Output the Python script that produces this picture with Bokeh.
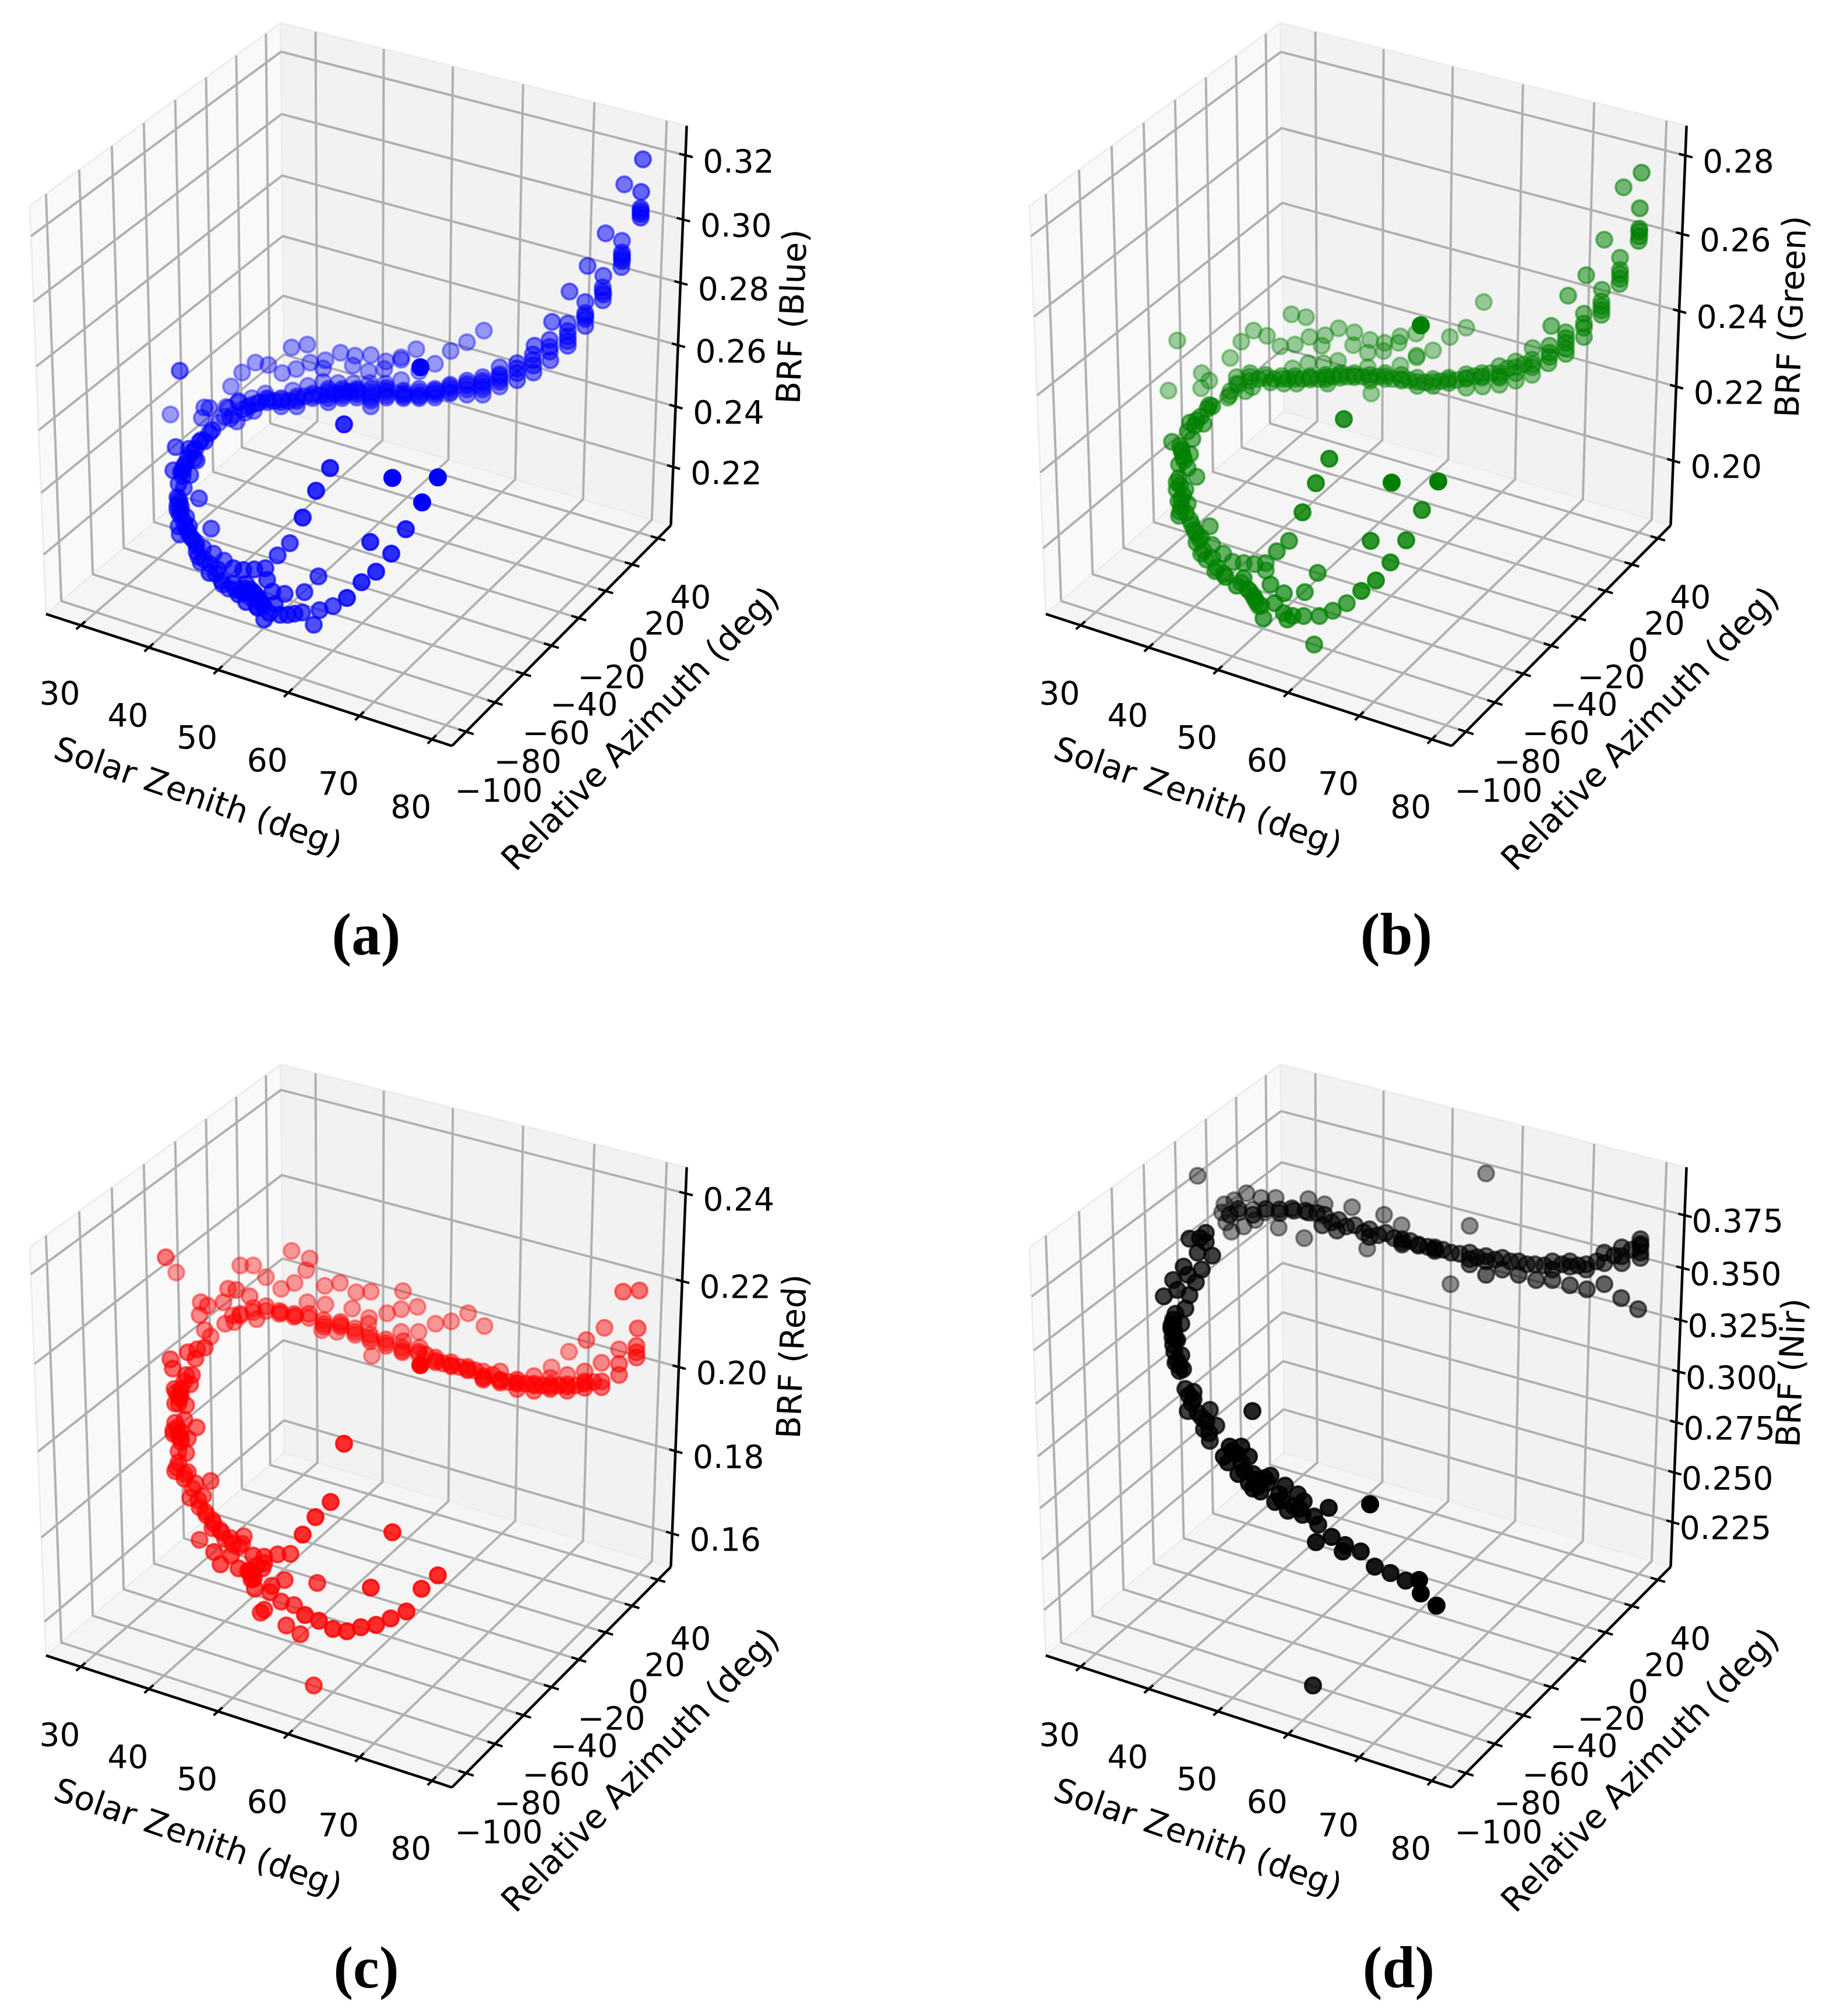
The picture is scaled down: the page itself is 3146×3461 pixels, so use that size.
import math
import numpy as np
from bokeh.core.properties import value
from bokeh.embed import file_html
from bokeh.models import Range1d
from bokeh.plotting import figure
from bokeh.resources import INLINE

# ---- tick values and axis limits ----
sza_ticks = [30, 40, 50, 60, 70, 80]
raz_ticks = [-100, -80, -60, -40, -20, 0, 20, 40]
sza_lim = (24.84, 82.74)
raz_lim = (-109.6, 50.1)

blue_ticks = [0.22, 0.24, 0.26, 0.28, 0.30, 0.32]
blue_lim = (0.2004, 0.3291)
green_ticks = [0.20, 0.22, 0.24, 0.26, 0.28]
green_lim = (0.1823, 0.2875)
red_ticks = [0.16, 0.18, 0.20, 0.22, 0.24]
red_lim = (0.1518, 0.2459)
nir_ticks = [0.225, 0.250, 0.275, 0.300, 0.325, 0.350, 0.375]
nir_lim = (0.2022, 0.3975)

# ---- scatter points (projected position), grouped by depth shade ----
blue_far = [(830,567),(801,587),(773,602),(746,624),(714,599),(688,613),(688,617),(662,620),(659,633),(636,609),(609,610),(605,627),(632,637),(584,605),(558,618),(554,632),(532,622),(508,633),(484,640),(527,591),(500,596),(460,626),(438,622),(415,639),(396,663),(719,637),(688,652),(661,658),(634,657),(606,658),(580,657),(554,655),(528,662),(502,670),(455,675),(432,683),(409,688),(388,698),(292,711)]
blue_band = [(857,630),(857,642),(857,655),(857,663),(828,647),(828,653),(828,663),(828,677),(801,653),(801,662),(801,677),(772,660),(772,667),(772,675),(746,667),(746,673),(746,682),(719,667),(719,677),(719,683),(692,670),(692,677),(692,683),(663,665),(663,673),(663,682),(636,667),(636,677),(636,687),(636,697),(612,667),(612,673),(612,682),(587,667),(587,675),(587,683),(563,667),(563,677),(563,690),(536,675),(536,683),(509,680),(509,688),(509,697),(482,683),(482,690),(482,697),(458,683),(458,690),(431,695),(435,705),(417,702),(395,718),(406,723),(391,700),(409,690),(359,700),(350,699),(346,717)]
blue_band_core = [(857,645),(857,650),(828,657),(828,668),(801,658),(801,668),(772,663),(772,672),(746,670),(746,677),(719,672),(719,680),(692,674),(692,680),(663,669),(663,678),(636,672),(636,682),(612,670),(612,677),(587,671),(587,679),(563,672),(563,683),(536,679),(509,684),(482,686),(458,686),(445,690),(470,688),(495,688),(522,680),(550,678),(575,675),(600,672),(425,698),(440,692),(420,708),(400,712),(385,715),(375,725)]
blue_right = [(1071,316),(1039,400),(1067,413),(1067,433),(1067,438),(1067,443),(1067,448),(1066,458),(1008,456),(1035,473),(1034,493),(1034,500),(1035,505),(1034,515),(977,500),(1004,518),(1004,537),(1004,542),(1004,547),(1004,559),(947,552),(974,555),(974,568),(974,577),(974,585),(974,593),(943,583),(943,595),(943,603),(944,618),(917,593),(914,608),(914,618),(915,627),(915,639),(887,623),(887,632),(887,640),(887,652)]
blue_curve = [(1103,273),(1100,329),(1099,357),(1099,362),(1099,367),(1099,373),(364,738),(359,743),(342,758),(351,757),(301,767),(324,770),(333,787),(337,790),(297,807),(313,807),(313,817),(326,815),(306,830),(315,837),(341,855),(304,853),(304,867),(310,870),(308,883),(319,887),(306,903),(324,903),(308,917),(326,920),(362,907),(337,937),(348,940),(337,947),(344,965),(366,950),(384,962),(308,636),(310,810),(315,800),(318,795),(322,785),(330,775),(335,770),(345,755),(306,857),(308,862),(304,875),(310,878),(315,895),(318,905),(322,912),(330,925),(335,930),(340,955),(350,960),(360,968),(370,985),(382,1003),(392,1010),(404,1012)]
blue_low = [(359,983),(373,977),(400,975),(417,978),(436,977),(455,975),(458,995),(380,997),(400,1002),(422,1002),(409,1020),(426,1017),(440,1023),(422,1033),(442,1043),(453,1063),(471,1037),(467,1015),(488,1019),(462,1052),(480,1055),(493,1055),(505,1053),(518,1051),(548,1047),(571,1040),(538,1072),(522,1016),(546,989),(476,953),(497,932),(420,1010),(430,1012),(435,1017),(438,1022),(445,1030),(448,1035),(452,1040),(440,1040),(430,1025),(415,1015)]
blue_near = [(595,1026),(620,999),(645,981),(671,950),(635,930),(696,908),(519,888),(542,842),(566,803),(590,728)]
blue_front = [(724,862),(751,819),(673,820),(721,630)]

green_far = [(2546,518),(2516,562),(2488,578),(2430,572),(2459,601),(2431,610),(2431,613),(2403,627),(2347,630),(2400,588),(2403,577),(2376,588),(2374,602),(2347,605),(2351,583),(2322,592),(2324,570),(2297,563),(2274,575),(2247,578),(2222,591),(2197,594),(2174,576),(2151,567),(2130,586),(2111,614),(2216,539),(2241,544),(2268,593),(2245,623),(2271,623),(2296,619),(2218,632),(2353,675),(2020,584),(2005,670),(2062,640),(2075,653),(2061,666)]
green_band = [(2630,597),(2629,617),(2629,630),(2629,643),(2601,620),(2601,630),(2601,640),(2601,653),(2573,628),(2573,640),(2573,648),(2573,660),(2543,640),(2543,648),(2544,663),(2516,642),(2516,650),(2516,665),(2486,648),(2486,657),(2459,650),(2459,662),(2432,648),(2432,662),(2405,643),(2405,653),(2377,640),(2377,650),(2351,643),(2351,653),(2324,640),(2324,647),(2300,640),(2300,648),(2275,643),(2275,651),(2278,658),(2248,645),(2248,651),(2222,645),(2225,658),(2199,645),(2203,658),(2172,643),(2180,656),(2145,640),(2145,653),(2122,647),(2149,664),(2122,658),(2137,671),(2111,671),(2107,682)]
green_band_core = [(2573,645),(2543,645),(2516,648),(2486,652),(2459,655),(2432,655),(2405,650),(2377,645),(2351,648),(2324,644),(2300,644),(2275,647),(2248,648),(2222,650),(2199,650),(2172,648),(2145,646),(2160,650),(2186,650),(2210,650),(2235,650),(2262,650),(2288,646),(2312,646),(2338,646),(2364,646),(2390,650),(2418,652),(2445,656),(2472,654),(2500,652),(2530,645),(2558,640),(2587,632),(2615,625),(2630,625),(2125,660),(2110,678)]
green_right = [(2786,321),(2753,411),(2780,442),(2780,463),(2780,470),(2780,478),(2779,487),(2722,472),(2749,497),(2748,517),(2748,525),(2748,532),(2748,540),(2691,507),(2718,538),(2718,555),(2718,562),(2718,578),(2662,559),(2687,570),(2687,580),(2687,588),(2687,598),(2687,607),(2659,593),(2659,605),(2659,612),(2657,623)]
green_curve = [(2817,296),(2814,357),(2813,392),(2813,397),(2813,405),(2812,413),(2080,697),(2072,701),(2053,721),(2042,725),(2065,727),(2038,740),(2046,753),(2011,758),(2027,771),(2030,784),(2042,779),(2023,797),(2038,803),(2053,818),(2019,827),(2019,840),(2034,840),(2027,857),(2038,864),(2027,870),(2023,885),(2042,892),(2076,903),(2049,909),(2061,922),(2053,931),(2080,935),(2061,950),(2080,957),(2099,950),(2115,964),(2134,966),(2153,968),(2172,966),(2172,979),(2023,820),(2025,832),(2030,850),(2025,765),(2028,775),(2032,790),(2022,860),(2025,878),(2035,880),(2045,900),(2052,915),(2058,925),(2065,945),(2070,960),(2085,980),(2100,985),(2130,1000),(2145,1015),(2150,1022),(2155,1032),(2160,1040),(2050,730),(2060,715),(2075,695)]
green_low = [(2088,974),(2103,990),(2134,992),(2122,1005),(2141,1011),(2153,1026),(2164,1039),(2168,1061),(2180,1003),(2203,1018),(2187,1035),(2203,1052),(2218,1057),(2237,1057),(2264,1057),(2209,1063),(2287,1048),(2311,1035),(2261,983),(2239,1016),(2191,946),(2212,928),(2255,1106)]
green_near = [(2336,1014),(2361,996),(2386,965),(2413,927),(2440,875),(2235,879),(2258,829),(2281,787),(2306,719),(2352,928)]
green_front = [(2468,826),(2388,828),(2438,558)]

red_far = [(302,2184),(412,2172),(434,2172),(500,2147),(531,2160),(525,2180),(456,2192),(505,2202),(482,2212),(557,2207),(583,2202),(611,2218),(636,2217),(691,2216),(527,2235),(558,2239),(604,2246),(688,2247),(716,2243),(664,2254),(633,2262),(803,2254),(774,2268),(747,2272),(831,2276),(976,2320),(946,2347),(638,2327),(718,2286),(688,2286),(632,2272),(552,2283),(578,2286)]
red_band = [(1037,2279),(1006,2300),(1062,2316),(1032,2339),(1003,2354),(973,2360),(944,2365),(916,2362),(858,2354),(829,2354),(802,2346),(774,2338),(747,2330),(720,2313),(718,2324),(690,2313),(690,2321),(692,2302),(662,2299),(662,2310),(635,2291),(635,2302),(609,2280),(609,2291),(584,2269),(584,2277),(555,2266),(555,2277),(530,2255),(504,2255),(479,2250),(456,2242),(434,2245),(412,2255),(440,2264),(399,2258),(386,2272),(402,2269),(507,2258),(482,2253),(391,2212),(405,2214),(428,2225),(383,2235),(344,2235),(356,2241),(342,2257),(351,2283),(361,2294),(662,2305),(690,2318),(718,2320),(635,2297),(609,2286),(584,2273),(555,2272),(530,2262),(504,2260),(479,2255),(456,2250),(434,2252),(412,2258)]
red_mid = [(1069,2217),(1097,2215),(1094,2280),(1092,2310),(1092,2321),(1092,2330),(1062,2341),(1062,2360),(1032,2371),(1032,2381),(1003,2371),(1003,2382),(973,2376),(973,2387),(944,2376),(944,2384),(916,2375),(916,2387),(887,2368),(887,2373),(887,2384),(858,2368),(858,2373),(829,2362),(829,2368),(802,2352),(774,2343),(747,2338),(284,2158),(730,2325),(747,2335),(760,2340),(774,2345),(788,2346),(802,2350),(815,2352),(829,2365),(845,2360),(858,2370),(872,2372),(887,2375),(902,2375),(916,2378),(930,2378),(944,2380),(958,2378),(973,2380),(988,2378),(1003,2375),(1018,2372)]
red_curve = [(338,2316),(322,2321),(351,2313),(335,2332),(292,2333),(296,2349),(319,2360),(329,2360),(316,2371),(310,2384),(299,2384),(326,2376),(310,2395),(306,2409),(319,2412),(300,2409),(300,2442),(316,2437),(337,2450),(297,2461),(310,2458),(310,2469),(322,2469),(306,2491),(319,2494),(303,2519),(322,2527),(316,2538),(335,2546),(361,2542),(326,2571),(348,2568),(342,2587),(354,2601),(364,2609),(364,2623),(377,2626),(386,2642),(418,2637),(415,2650),(399,2650),(342,2643),(302,2390),(306,2395),(308,2400),(297,2455),(304,2450),(306,2465),(310,2475),(300,2525),(306,2510),(316,2530),(330,2555),(340,2575),(352,2595),(366,2615),(380,2630),(395,2640),(410,2655)]
red_low = [(367,2664),(396,2670),(378,2685),(434,2670),(453,2672),(476,2668),(498,2667),(453,2683),(409,2692),(425,2697),(434,2703),(450,2692),(431,2711),(437,2727),(466,2722),(463,2733),(488,2712),(482,2749),(504,2755),(453,2763),(447,2768),(491,2790),(515,2805),(544,2717),(538,2893),(430,2700),(435,2710),(428,2695),(440,2688)]
red_near = [(523,2772),(547,2782),(571,2796),(595,2800),(619,2793),(645,2789),(670,2778),(697,2766),(636,2725),(723,2727),(751,2704),(673,2630),(567,2578),(541,2604),(519,2634),(590,2478)]
red_front = [(721,2343)]

nir_far = [(2055,2018),(2550,2014),(2522,2104),(2238,2125),(2194,2107),(2139,2048),(2118,2060),(2164,2056),(2189,2056),(2101,2067),(2097,2081),(2104,2098),(2113,2114),(2134,2105),(2125,2081),(2150,2076),(2154,2094),(2171,2081),(2245,2058),(2273,2067),(2320,2072),(2346,2143),(2375,2085),(2405,2103),(2489,2204)]
nir_band = [(2196,2076),(2217,2074),(2245,2081),(2273,2085),(2269,2103),(2297,2094),(2294,2112),(2325,2103),(2350,2110),(2350,2123),(2378,2116),(2406,2127),(2406,2136),(2434,2136),(2462,2141),(2462,2147),(2490,2150),(2522,2150),(2522,2161),(2522,2170),(2550,2156),(2550,2165),(2550,2188),(2578,2159),(2578,2179),(2606,2165),(2606,2188),(2634,2170),(2636,2197),(2664,2165),(2664,2179),(2664,2197),(2694,2165),(2694,2174),(2694,2206),(2722,2170),(2722,2179),(2723,2213),(2753,2150),(2753,2168),(2753,2204),(2783,2141),(2783,2156),(2783,2168),(2782,2228),(2811,2247),(2815,2127),(2815,2139),(2815,2150),(2815,2159)]
nir_band_core = [(2240,2078),(2220,2078),(2196,2082),(2172,2075),(2150,2085),(2125,2075),(2110,2085),(2260,2082),(2285,2098),(2310,2105),(2340,2115),(2365,2120),(2392,2125),(2420,2130),(2450,2140),(2476,2145),(2505,2152),(2535,2158),(2565,2162),(2592,2165),(2620,2170),(2650,2172),(2680,2170),(2708,2172),(2740,2165),(2770,2155),(2800,2145),(2815,2135),(2406,2132),(2434,2138),(2462,2144)]
nir_curve = [(2069,2116),(2041,2126),(2059,2125),(2069,2132),(2055,2150),(2080,2155),(2062,2179),(2031,2174),(2038,2188),(2052,2201),(2013,2197),(2020,2214),(1997,2225),(2041,2223),(2034,2246),(2017,2255),(2013,2272),(2010,2281),(2027,2272),(2017,2299),(2013,2308),(2027,2326),(2017,2339),(2024,2353),(2034,2384),(2048,2389),(2038,2422),(2048,2402),(2076,2420),(2062,2433),(2087,2447),(2066,2453),(2076,2473),(2013,2265),(2010,2275),(2015,2285),(2020,2300),(2012,2295),(2015,2320),(2020,2335),(2025,2345),(2030,2350),(2040,2395),(2045,2408),(2055,2425),(2070,2440),(2075,2460)]
nir_low = [(2110,2483),(2130,2483),(2143,2500),(2107,2510),(2125,2530),(2143,2545),(2170,2537),(2180,2533),(2163,2560),(2188,2578),(2205,2550),(2210,2593),(2227,2565),(2237,2577),(2235,2600),(2255,2603),(2262,2617),(2149,2422),(2253,2893),(2115,2490),(2122,2495),(2100,2500),(2130,2510),(2135,2525),(2150,2530),(2155,2540),(2160,2550),(2150,2555),(2175,2545),(2195,2565),(2200,2575),(2220,2585),(2230,2590)]
nir_near = [(2280,2588),(2258,2647),(2285,2638),(2308,2652),(2304,2663),(2335,2663),(2359,2689),(2386,2700),(2412,2713)]
nir_front = [(2435,2712),(2438,2735),(2465,2756),(2351,2582)]

shade_alpha = [0.38, 0.45, 0.52, 0.58, 0.68, 0.82, 1.0]
nir_shade_alpha = [0.42, 0.6, 0.6, 0.75, 0.85, 0.9, 1.0]
blue_groups = [blue_far, blue_band + blue_band_core, blue_right, blue_curve, blue_low, blue_near, blue_front]
green_groups = [green_far, green_band + green_band_core, green_right, green_curve, green_low, green_near, green_front]
red_groups = [red_far, red_band, red_mid, red_curve, red_low, red_near, red_front]
nir_groups = [nir_far, nir_band + nir_band_core, [], nir_curve, nir_low, nir_near, nir_front]

# ---- view: matplotlib-style 3D camera, elev 30, azim -60, distance 10 ----
az, el, dist = math.radians(-60), math.radians(30), 10.0
n = np.array([math.cos(el) * math.cos(az), math.cos(el) * math.sin(az), math.sin(el)])
eye = np.array([0.5, 0.5, 0.5]) + dist * n
right = np.cross([0, 0, 1], n); right /= np.linalg.norm(right)
up = np.cross(n, right)

def camera(u, v, w):
    q = np.array([u, v, w], dtype=float) - eye
    d = -q.dot(n)
    return right.dot(q) / d * dist, up.dot(q) / d * dist

# box corners in the picture fix the camera-to-figure mapping
box_uvw = [(0,0,0),(0,0,1),(1,0,0),(1,1,0),(1,1,1),(0,1,0),(0,1,1)]
box_px = [(77,1054),(50,353),(777,1282),(1150,900),(1177,216),(488,703),(483,40)]
A = np.array([[*camera(*c), 1.0] for c in box_uvw])
coef_x = np.linalg.lstsq(A, np.array([b[0] for b in box_px], float), rcond=None)[0]
coef_y = np.linalg.lstsq(A, np.array([b[1] for b in box_px], float), rcond=None)[0]

def proj(u, v, w, ox=0, oy=0):
    X, Y = camera(u, v, w)
    return (float(coef_x[0]*X + coef_x[1]*Y + coef_x[2] + ox),
            float(coef_y[0]*X + coef_y[1]*Y + coef_y[2] + oy))

def frac(val, lim):
    return (val - lim[0]) / (lim[1] - lim[0])

W, H = 3130, 3445
p = figure(width=W, height=H, x_range=Range1d(0, W), y_range=Range1d(H, 0),
           x_axis_location=None, y_axis_location=None, toolbar_location=None,
           output_backend="svg", min_border=0)
p.grid.visible = False
p.outline_line_color = None
p.background_fill_color = "white"

DEJAVU = value("DejaVu Sans")
TICK_FS = "55px"
LABEL_FS = "57px"

def polyline(points, ox, oy):
    pts = [proj(*c, ox, oy) for c in points]
    return [a for a, _ in pts], [b for _, b in pts]

def add_text(x, y, s, size, angle=0.0, font=DEJAVU, style="normal"):
    p.text([x], [y], text=[s], text_font=font, text_font_size=size, text_font_style=style,
           text_align="center", text_baseline="middle", angle=[math.radians(angle)],
           text_color="black")

def panel(ox, oy, zlim, zticks, zfmt, zname, zname_xy, groups, color, alphas):
    # panes
    for corners, fill in (([(0,0,0),(0,1,0),(0,1,1),(0,0,1)], "#f9f9f9"),
                          ([(0,1,0),(1,1,0),(1,1,1),(0,1,1)], "#f2f2f2"),
                          ([(0,0,0),(1,0,0),(1,1,0),(0,1,0)], "#f5f5f5")):
        xs, ys = polyline(corners, ox, oy)
        p.patch(xs, ys, fill_color=fill, line_color="#ededed", line_width=3)
    # grid
    gx, gy = [], []
    for t in sza_ticks:
        u = frac(t, sza_lim)
        a, b = polyline([(u,0,0),(u,1,0),(u,1,1)], ox, oy); gx.append(a); gy.append(b)
    for t in raz_ticks:
        v = frac(t, raz_lim)
        a, b = polyline([(1,v,0),(0,v,0),(0,v,1)], ox, oy); gx.append(a); gy.append(b)
    for t in zticks:
        w = frac(t, zlim)
        a, b = polyline([(0,0,w),(0,1,w),(1,1,w)], ox, oy); gx.append(a); gy.append(b)
    p.multi_line(gx, gy, line_color="#b0b0b0", line_width=4)
    # axis lines
    for seg in ([(0,0,0),(1,0,0)], [(1,0,0),(1,1,0)], [(1,1,0),(1,1,1)]):
        a, b = polyline(seg, ox, oy)
        p.line(a, b, line_color="black", line_width=4.5)
    # ticks and tick labels
    tx, ty = [], []
    for t in sza_ticks:
        u = frac(t, sza_lim)
        a, b = polyline([(u,0.018,0),(u,-0.018,0)], ox, oy); tx.append(a); ty.append(b)
        x0, y0 = proj(u, 0, 0, ox, oy)
        add_text(x0 - 36, y0 + 115, str(t), TICK_FS)
    for t in raz_ticks:
        v = frac(t, raz_lim)
        a, b = polyline([(1-0.018,v,0),(1+0.018,v,0)], ox, oy); tx.append(a); ty.append(b)
        x0, y0 = proj(1, v, 0, ox, oy)
        add_text(x0 + 56, y0 + 100, str(t).replace("-", "\u2212"), TICK_FS)
    for t in zticks:
        w = frac(t, zlim)
        a, b = polyline([(1-0.015,1,w),(1+0.017,1,w)], ox, oy); tx.append(a); ty.append(b)
        x0, y0 = proj(1, 1, w, ox, oy)
        add_text(x0 + 91, y0 + 9, zfmt.format(t), TICK_FS)
    p.multi_line(tx, ty, line_color="black", line_width=4)
    # points, far shades first
    for pts, alpha in zip(groups, alphas):
        if pts:
            p.scatter([q[0] for q in pts], [q[1] for q in pts], marker="circle", size=27,
                      fill_color=color, fill_alpha=alpha, line_color=color, line_alpha=alpha,
                      line_width=4)
    # axis titles
    add_text(340 + ox, 1366 + oy, "Solar Zenith (deg)", LABEL_FS, angle=-19)
    add_text(1098 + ox, 1250 + oy, "Relative Azimuth (deg)", LABEL_FS, angle=45.7)
    add_text(zname_xy[0], zname_xy[1], zname, LABEL_FS, angle=87.7)

DX, DY = 1716, 1788
panel(0, 0, blue_lim, blue_ticks, "{:.2f}", "BRF (Blue)", (1358, 543), blue_groups, "#0000ff", shade_alpha)
panel(DX, 0, green_lim, green_ticks, "{:.2f}", "BRF (Green)", (3073, 543), green_groups, "#008000", shade_alpha)
panel(0, DY, red_lim, red_ticks, "{:.2f}", "BRF (Red)", (1358, 2328), red_groups, "#ff0000", shade_alpha)
panel(DX, DY, nir_lim, nir_ticks, "{:.3f}", "BRF (Nir)", (3073, 2356), nir_groups, "#000000", nir_shade_alpha)

panel_tags = ["(a)", "(b)", "(c)", "(d)"]
tag_x = [628, 2396, 628, 2400]
tag_y = [1603, 1603, 3377, 3377]
# a size with a round hundred trips the SVG font parser, so 101px
p.text(tag_x, tag_y, text=panel_tags, text_font=value("Liberation Serif"), text_font_size="101px",
       text_font_style="bold", text_align="center", text_baseline="middle", text_color="black")

open("out.html", "w").write(file_html(p, INLINE))
